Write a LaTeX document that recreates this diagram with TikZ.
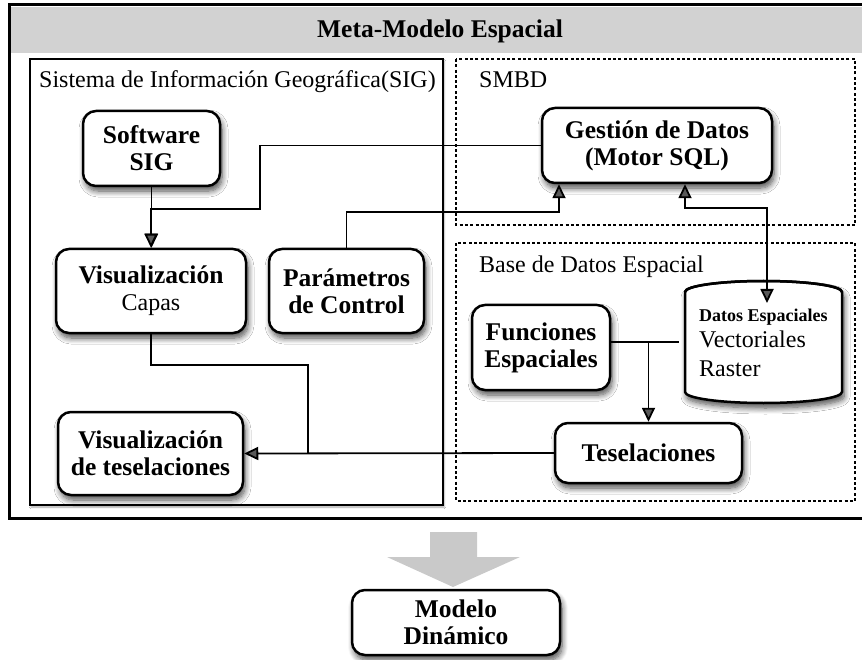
\documentclass[tikz,border=0pt]{standalone}
\usepackage{fontspec}
\setmainfont{Liberation Serif}
\usetikzlibrary{arrows.meta,shadows.blur,calc}

\newcommand\regtext{\fontsize{24}{27}\selectfont\mdseries}

\tikzset{
  bodytext/.style={font=\fontsize{24}{27}\selectfont},
  boldtext/.style={font=\fontsize{25.5}{27}\selectfont\bfseries},
  softshadow/.style={blur shadow={shadow xshift=2pt, shadow yshift=-5pt,
    shadow blur steps=8, shadow blur radius=6pt, shadow opacity=70}},
  rbox/.style={draw, line width=2.5pt, rounded corners=13pt, fill=white,
    align=center, boldtext, inner sep=0pt, softshadow},
  dotbox/.style={line width=2.3pt, dash pattern=on 3pt off 2.3pt},
  conn/.style={line width=1.8pt, -{Triangle[length=14pt,width=13pt]}},
  conntwo/.style={line width=1.8pt, {Triangle[length=14pt,width=13pt]}-{Triangle[length=14pt,width=13pt]}},
  plain/.style={line width=1.8pt},
  grouplabel/.style={bodytext, anchor=base west, inner sep=0pt},
}

\begin{document}
\begin{tikzpicture}[x=1pt,y=-1pt]
\useasboundingbox (0,0) rectangle (862,660);

% outer frame with title band, running past the right edge of the page
\begin{scope}
  \clip (0,0) rectangle (862,660);
  \fill[white] (9,5) rectangle (900,518);
  \fill[gray!35] (11,7) rectangle (900,53);
  \draw[line width=3pt] (900,5) -- (9,5) -- (9,518) -- (900,518);
\end{scope}
\node[boldtext] (title) at (440,31) {Meta-Modelo Espacial};

% group boxes
\draw[line width=2pt, fill=white,
  blur shadow={shadow xshift=1pt, shadow yshift=-2pt, shadow blur steps=4, shadow opacity=35}]
  (30,59) rectangle (443,505);
\node[grouplabel] (lsig) at (39,88) {Sistema de Información Geográfica(SIG)};
\draw[dotbox] (456,59) rectangle (855,225);
\node[grouplabel] (lsmbd) at (479,88) {SMBD};
\draw[dotbox] (456,243) rectangle (855,501);
\node[grouplabel] (lbde) at (479,273) {Base de Datos Espacial};

% process boxes
\node[rbox, minimum width=137pt, minimum height=75pt] (sw) at (151.5,148.5) {Software\\SIG};
\node[rbox, minimum width=190pt, minimum height=84pt] (vc) at (151,291)
  {Visualización\\{\regtext Capas}};
\node[rbox, minimum width=155pt, minimum height=84pt] (pc) at (346.5,291) {Parámetros\\de Control};
\node[rbox, minimum width=185pt, minimum height=83pt] (vt) at (150.5,453.5)
  {Visualización\\de teselaciones};
\node[rbox, minimum width=230pt, minimum height=75pt] (gd) at (657,145.5)
  {Gestión de Datos\\(Motor SQL)};
\node[rbox, minimum width=138pt, minimum height=85pt] (fe) at (541,347.5) {Funciones\\Espaciales};
\node[rbox, minimum width=187pt, minimum height=60pt] (ts) at (648.5,453) {Teselaciones};

% spatial data store
\node[minimum width=157pt, minimum height=122pt, inner sep=0pt] (db) at (763.5,342) {};
\draw[line width=2.5pt, fill=white, softshadow]
  (685,292) -- (685,392) arc[start angle=180, end angle=360, x radius=78.5pt, y radius=11pt]
  -- (842,292) arc[start angle=0, end angle=180, x radius=78.5pt, y radius=11pt] -- cycle;
\draw[line width=2.5pt] (685,292) arc[start angle=180, end angle=360, x radius=78.5pt, y radius=-11pt];
\node[anchor=base west, inner sep=0pt, font=\fontsize{18}{20}\selectfont\bfseries] (dbt1) at (699,322) {Datos Espaciales};
\node[grouplabel] (dbt2) at (699,347) {Vectoriales};
\node[grouplabel] (dbt3) at (699,376) {Raster};

% connectors
\coordinate (j1) at (260,209);
\coordinate (j2) at (559,212);
\coordinate (j3) at (685,208);
\coordinate (j4) at (767,208);
\coordinate (dbtop) at (767,303);
\coordinate (j5) at (308,365);

\draw[conn] (sw.south) -- (sw.south |- vc.north);
\draw[conn] (gd.west) -| (j1) -| (vc.north);
\draw[conn] (pc.north) |- (j2) -- (j2 |- gd.south);
\draw[conntwo] (j3 |- gd.south) -- (j3) -- (j4) -- (dbtop);
\draw[plain] (fe.east |- db.west) -- ([xshift=-6pt]db.west);
\draw[conn] (ts.north |- db.west) -- (ts.north);
\draw[conn] (ts.west) -- (vt.east);
\draw[plain] (vc.south) |- (j5) -- (j5 |- vt.east);

% transition to the dynamic model
\fill[gray!42] (430,532) -- (477,532) -- (477,557) -- (520,557) -- (453,587)
  -- (387,557) -- (430,557) -- cycle;
\node[rbox, minimum width=208pt, minimum height=65pt] (md) at (456,622.5) {Modelo\\Dinámico};
\end{tikzpicture}
\end{document}
